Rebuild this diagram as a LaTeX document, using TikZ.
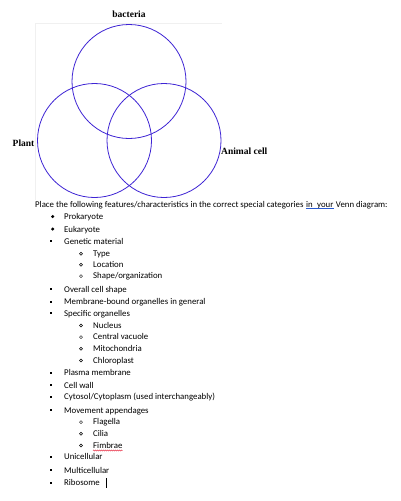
\documentclass[tikz,border=0pt]{standalone}
\usepackage{fontspec}
\setmainfont{Carlito}
\newfontfamily\labfont{Liberation Serif}
\usepackage{tikz}
\usetikzlibrary{decorations.pathmorphing}
\definecolor{venn}{RGB}{62,36,212}
\definecolor{grammar}{RGB}{40,90,210}
\definecolor{spell}{RGB}{235,70,90}
\tikzset{
  vennlabel/.style={font=\labfont\bfseries\fontsize{9.5}{11}\selectfont},
  item/.style={anchor=base west,inner sep=0pt,font=\fontsize{8.8}{10}\selectfont},
}

\begin{document}
\begin{tikzpicture}[x=1pt,y=-1pt]
\useasboundingbox[fill=white] (0,0) rectangle (401,501);

% frame of the diagram (very faint)
\draw[black!6] (35.5,200) -- (35.5,23.5) -- (222,23.5);

% circles
\draw[venn,thick] (129,81.5) circle[radius=57pt];
\draw[venn,thick] (94.5,140.5) circle[radius=57pt];
\draw[venn,thick] (164,140.5) circle[radius=57pt];

% set labels
\node[vennlabel] (bact) at (129,14) {bacteria};
\node[vennlabel,anchor=west,inner sep=0pt] (plant) at (12.5,143) {Plant};
\node[vennlabel,anchor=west,inner sep=0pt] (animal) at (221,151) {Animal cell};

% instruction line
\node[item] (intro) at (35,207) {Place the following features/characteristics in the correct special categories};
\node[item] (inyour) at ([xshift=2.2pt]intro.base east) {in\enspace your};
\node[item] (introend) at ([xshift=2.2pt]inyour.base east) {Venn diagram:};
\draw[grammar,line width=0.6pt] ([yshift=-1.6pt]inyour.base west) -- ([yshift=-1.6pt]inyour.base east);

% round bullets
\foreach \y/\lab in {219.5/Prokaryote,232/Eukaryote}{
  \fill (52.7,\y-3) circle[radius=1.7pt];
  \node[item] at (64,\y) {\lab};
}

% square bullets
\foreach \y/\lab in {244/{Genetic material},292.3/{Overall cell shape},
  304.7/{Membrane-bound organelles in general},316.3/{Specific organelles},
  375.7/{Plasma membrane},388/{Cell wall},399.7/{Cytosol/Cytoplasm (used interchangeably)},
  413/{Movement appendages},459.7/{Unicellular},473/{Multicellular}}{
  \fill (50,\y-4.1) rectangle (52.2,\y-1.9);
  \node[item] at (64,\y) {\lab};
}
\fill (50,481.6) rectangle (52.2,483.8);
\node[item] (ribo) at (64,485.7) {Ribosome};

% sub items
\foreach \y/\lab in {256.3/{Type},267.3/{Location},278.7/{Shape/organization},
  328/{Nucleus},339.7/{Central vacuole},351.3/{Mitochondria},363/{Chloroplast},
  424.7/{Flagella},436.3/{Cilia}}{
  \draw[line width=0.5pt] (81,\y-2.6) circle[radius=1.5pt];
  \node[item] at (93,\y) {\lab};
}
\draw[line width=0.5pt] (81,445.4) circle[radius=1.5pt];
\node[item] (fimb) at (93,448) {Fimbrae};

% spelling mark and cursor
\draw[spell,line width=0.5pt,decorate,decoration={zigzag,amplitude=0.6pt,segment length=2pt}]
  ([yshift=-2.5pt]fimb.base west) -- ([yshift=-2.5pt]fimb.base east);
\draw[line width=0.7pt] ([xshift=6pt,yshift=7.5pt]ribo.base east) -- ([xshift=6pt,yshift=-2.5pt]ribo.base east);
\end{tikzpicture}
\end{document}
